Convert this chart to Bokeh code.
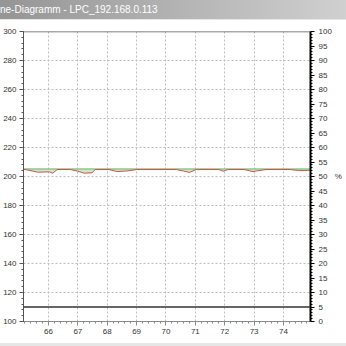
from bokeh.plotting import figure
from bokeh.models import (LinearAxis, Range1d, SingleIntervalTicker, Span, Div,
                          ColumnDataSource)
from bokeh.layouts import column
from bokeh.embed import file_html
from bokeh.resources import INLINE

title_text = "ne-Diagramm - LPC_192.168.0.113"

time_x = [65.15, 65.29, 65.63, 66.03, 66.14, 66.30, 66.74, 66.98, 67.22, 67.49,
          67.59, 68.06, 68.33, 68.67, 69.01, 70.36, 70.59, 70.80, 71.03, 71.81,
          71.95, 72.11, 72.66, 72.96, 73.40, 74.24, 74.51, 74.82, 74.92]
red_values = [204.9, 204.5, 203.0, 203.2, 202.3, 204.8, 204.8, 203.8, 202.3, 202.6,
              204.8, 204.8, 203.4, 203.8, 204.8, 204.8, 203.8, 202.8, 204.8, 204.8,
              203.6, 204.8, 204.8, 203.4, 204.8, 204.8, 204.1, 204.1, 204.5]
green_values = [205.2] * len(time_x)
limit_value = 110

x_min, x_max = 65.15, 74.92
y_min, y_max = 100, 300
pct_min, pct_max = 0, 100

src = ColumnDataSource(dict(x=time_x, red=red_values, green=green_values))

FONT = "Liberation Sans"
TXT = "#333333"

p = figure(width=346, height=323, x_range=Range1d(x_min, x_max),
           y_range=Range1d(y_min, y_max), output_backend="svg",
           toolbar_location=None, min_border_left=21, min_border_right=36,
           min_border_top=11, min_border_bottom=22, outline_line_color=None,
           background_fill_color="white", border_fill_color="white",
           x_axis_location=None, y_axis_location=None, margin=(0, 0, 0, 0))

# bottom axis
xticker = SingleIntervalTicker(interval=1, num_minor_ticks=5)
xaxis = LinearAxis(ticker=xticker, axis_line_color="#8a8a8a",
                   major_tick_line_color="#8a8a8a", minor_tick_line_color="#8a8a8a",
                   major_tick_out=4, major_tick_in=0, minor_tick_out=2, minor_tick_in=0,
                   major_label_standoff=3, major_label_text_font=FONT,
                   major_label_text_font_size="8px", major_label_text_color=TXT)
p.add_layout(xaxis, "below")

# left axis
yticker = SingleIntervalTicker(interval=20, num_minor_ticks=5)
yaxis = LinearAxis(ticker=yticker, axis_line_color="#555555",
                   major_tick_line_color="#555555", minor_tick_line_color="#555555",
                   major_tick_out=4, major_tick_in=0, minor_tick_out=2, minor_tick_in=0,
                   major_label_standoff=3, major_label_text_font=FONT,
                   major_label_text_font_size="8px", major_label_text_color=TXT)
p.add_layout(yaxis, "left")

# right axis (%)
p.extra_y_ranges = {"pct": Range1d(pct_min, pct_max)}
rticker = SingleIntervalTicker(interval=5, num_minor_ticks=5)
raxis = LinearAxis(y_range_name="pct", ticker=rticker, axis_line_color="black",
                   axis_line_width=2, major_tick_line_color="black",
                   minor_tick_line_color="black", major_tick_out=4, major_tick_in=0,
                   minor_tick_out=2, minor_tick_in=0, major_label_standoff=4,
                   major_label_text_font=FONT, major_label_text_font_size="8px",
                   major_label_text_color=TXT, axis_label="%",
                   axis_label_orientation="horizontal", axis_label_standoff=0,
                   axis_label_text_font=FONT, axis_label_text_font_size="8px",
                   axis_label_text_font_style="normal", axis_label_text_color=TXT)
p.add_layout(raxis, "right")

p.xgrid.ticker = xticker
p.ygrid.ticker = yticker
for g in (p.xgrid, p.ygrid):
    g.grid_line_color = "#bdbdbd"
    g.grid_line_dash = "2 2"
    g.grid_line_width = 1

# top border
p.add_layout(Span(location=y_max, dimension="width", line_color="#555555", line_width=1.5))
# limit line
p.add_layout(Span(location=limit_value, dimension="width", line_color="#333333", line_width=1.5))

p.varea(x="x", y1="red", y2="green", source=src, fill_color="#cfe8c8")
p.line(x="x", y="green", source=src, line_color="#8cc98c", line_width=1.5)
p.line(x="x", y="red", source=src, line_color="#c8554a", line_width=1)

title = Div(text=title_text, width=346, height=20, margin=(0, 0, 0, 0),
            styles={"background": "linear-gradient(to right, #959595, #d0d0d0)",
                    "color": "white", "font-family": FONT, "font-size": "10px",
                    "line-height": "19px", "white-space": "nowrap",
                    "border-bottom": "1px solid #e6e6e6", "box-sizing": "border-box",
                    "overflow": "hidden"})
bottom = Div(text="", width=346, height=3, margin=(0, 0, 0, 0),
             styles={"background": "#e6e6e6"})

layout = column(title, p, bottom, spacing=0, margin=(0, 0, 0, 0))
open("out.html", "w").write(file_html(layout, INLINE))
